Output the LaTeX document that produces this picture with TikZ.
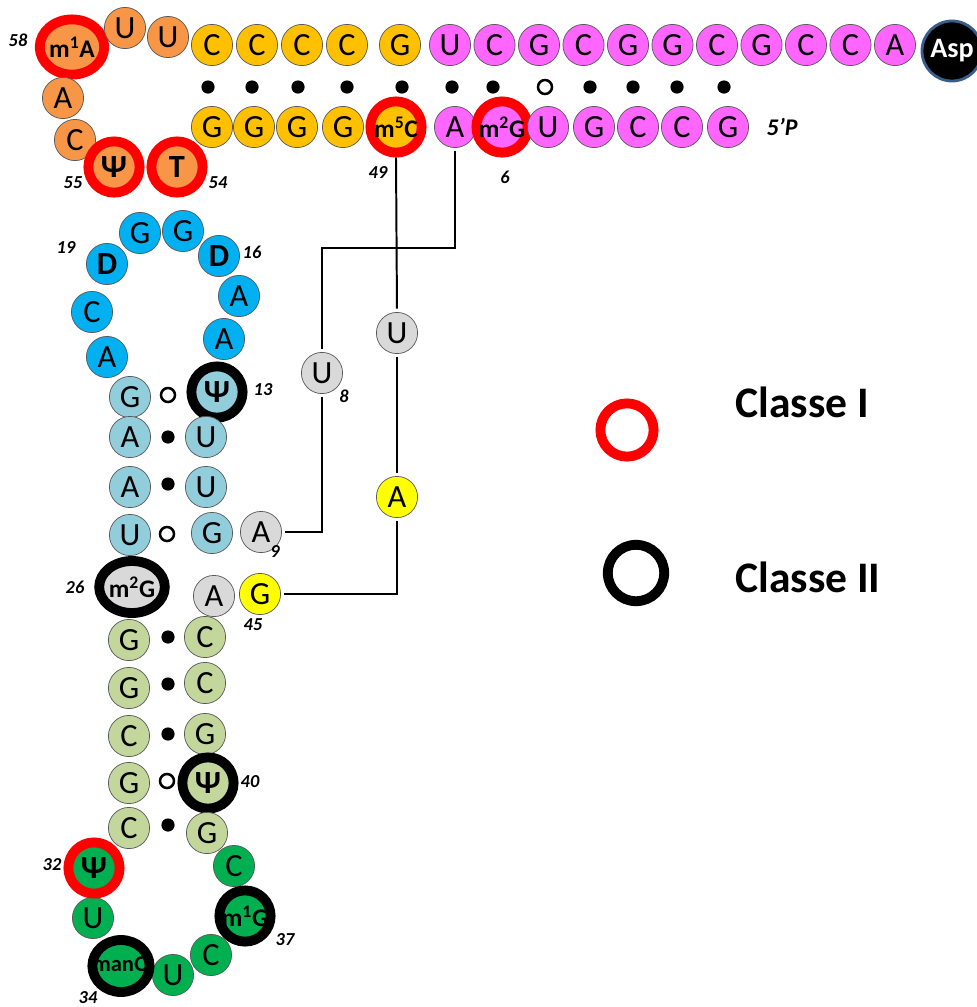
\documentclass[tikz,border=0pt]{standalone}
\usepackage{fontspec}
\setmainfont{Carlito}
\usetikzlibrary{shapes.geometric}
\definecolor{tloop}{RGB}{247,150,70}
\definecolor{tstem}{RGB}{255,192,0}
\definecolor{accept}{RGB}{255,102,255}
\definecolor{dloop}{RGB}{0,176,240}
\definecolor{dstem}{RGB}{146,205,220}
\definecolor{varg}{RGB}{217,217,217}
\definecolor{yel}{RGB}{255,255,0}
\definecolor{astem}{RGB}{195,214,155}
\definecolor{aloop}{RGB}{0,176,80}
\definecolor{aspring}{RGB}{56,93,138}

\begin{document}
\begin{tikzpicture}[x=0.025cm,y=-0.025cm]
  \tikzset{nt/.style = {shape=circle,draw=black!65,line width=0.5pt,minimum size=1.03cm,inner sep=0pt,font=\fontsize{23}{23}\selectfont}}
  \tikzset{bnt/.style = {font=\bfseries\fontsize{23}{23}\selectfont}}
  \tikzset{mod/.style = {font=\bfseries\fontsize{18}{18}\selectfont}}
  \tikzset{cI/.style = {draw=red,line width=7pt,minimum size=1.28cm}}
  \tikzset{cII/.style = {draw=black,line width=7pt,minimum size=1.28cm}}
  \tikzset{oval/.style = {shape=ellipse,inner sep=0pt}}
  \tikzset{num/.style = {font=\bfseries\itshape\fontsize{13}{13}\selectfont,inner sep=0pt}}
  \tikzset{bp/.style = {shape=circle,fill,minimum size=0.33cm,inner sep=0pt}}
  \tikzset{wob/.style = {shape=circle,draw,line width=1.8pt,minimum size=0.35cm,inner sep=0pt}}
  \tikzset{link/.style = {line width=1.4pt,shorten <=2.5pt,shorten >=2.5pt}}
  \useasboundingbox (0,0) rectangle (977,1007);

  % acceptor and T stems
  \foreach \b [count=\i] in {C,C,C,C}
    \node[nt,fill=tstem] (tc\i) at ({212+45*(\i-1)},45) {\b};
  \node[nt,fill=tstem] (tg5) at (400,45) {G};
  \foreach \b [count=\i] in {U,C,G,C,G,G,C,G,C,C,A}
    \node[nt,fill=accept] (ac\i) at ({450+44.5*(\i-1)},45) {\b};
  \node[nt,fill=black,draw=aspring,line width=2pt,minimum size=1.5cm,text=white,font=\bfseries\fontsize{20}{20}\selectfont] (Asp) at (952,51) {Asp};

  \foreach \x [count=\i] in {212,254,297,343}
    \node[nt,fill=tstem] (bg\i) at (\x,127) {G};
  \node[nt,fill=tstem,cI,mod] (m5C) at (396,127) {m\textsuperscript{5}C};
  \node[nt,fill=accept] (A14) at (455,127) {A};
  \node[nt,fill=accept,cI,mod] (m2Ga) at (502,127) {m\textsuperscript{2}G};
  \foreach \b/\x [count=\i] in {U/548,G/594,C/638,C/682,G/728}
    \node[nt,fill=accept] (ap\i) at (\x,127) {\b};

  \foreach \x in {208,252,298,347,402,452,493,590,633,677,724}
    \node[bp] (bp\x) at (\x,87) {};
  \node[wob] (wb545) at (545,87) {};

  % T loop
  \node[nt,fill=tloop,oval,cI,mod,minimum width=1.58cm,minimum height=1.38cm] (m1A) at (72,47) {m\textsuperscript{1}A};
  \node[nt,fill=tloop] (U59) at (125,28) {U};
  \node[nt,fill=tloop] (U60) at (168,37) {U};
  \node[nt,fill=tloop] (A57) at (63,98) {A};
  \node[nt,fill=tloop] (C56) at (75,140) {C};
  \node[nt,fill=tloop,cI,bnt] (Psi55) at (114,167) {Ψ};
  \node[nt,fill=tloop,cI,bnt] (T54) at (177,167) {T};

  % D arm
  \node[nt,fill=dloop] (G18) at (140,233) {G};
  \node[nt,fill=dloop] (G17) at (183,231) {G};
  \node[nt,fill=dloop,bnt] (D19) at (107,264) {D};
  \node[nt,fill=dloop,bnt] (D16) at (219,256) {D};
  \node[nt,fill=dloop] (A15) at (239,296) {A};
  \node[nt,fill=dloop] (C20) at (92,312) {C};
  \node[nt,fill=dloop] (A21) at (107,357) {A};
  \node[nt,fill=dloop] (A14b) at (224,339) {A};

  \foreach \b/\y [count=\i] in {G/397,A/437,A/487,U/535}
    \node[nt,fill=dstem] (dl\i) at (130,\y) {\b};
  \node[nt,fill=dstem,cII,bnt] (Psi13) at (217,392) {Ψ};
  \node[nt,fill=dstem] (U12) at (206,437) {U};
  \node[nt,fill=dstem] (U11) at (206,487) {U};
  \node[nt,fill=dstem] (G10) at (212,533) {G};
  \node[wob] (wb395) at (168,395) {};
  \node[bp] (bp437) at (168,437) {};
  \node[bp] (bp484) at (168,484) {};
  \node[wob] (wb534) at (167,534) {};

  % variable region
  \node[nt,fill=varg] (A9) at (261,532) {A};
  \node[nt,fill=varg,oval,cII,mod,minimum width=1.63cm,minimum height=1.3cm] (m2G26) at (132,587) {m\textsuperscript{2}G};
  \node[nt,fill=varg] (A44) at (214,596) {A};
  \node[nt,fill=yel] (G45) at (260,594) {G};
  \node[nt,fill=varg] (U8) at (322,373) {U};
  \node[nt,fill=varg] (U48) at (397,333) {U};
  \node[nt,fill=yel] (A47) at (397,497) {A};

  % anticodon arm
  \foreach \b/\y [count=\i] in {G/640,G/688,C/736,G/783,C/828}
    \node[nt,fill=astem] (sl\i) at (129,\y) {\b};
  \node[nt,fill=astem] (C43) at (205,637) {C};
  \node[nt,fill=astem] (C42) at (205,683) {C};
  \node[nt,fill=astem] (G41) at (205,734) {G};
  \node[nt,fill=astem,cII,bnt] (Psi40) at (208,783) {Ψ};
  \node[nt,fill=astem] (G39) at (207,833) {G};
  \foreach \y in {637,684,734,825}
    \node[bp] (bp\y) at (168,\y) {};
  \node[wob] (wb781) at (167,781) {};

  \node[nt,fill=aloop] (C38) at (234,866) {C};
  \node[nt,fill=aloop] (U33) at (93,918) {U};
  \node[nt,fill=aloop] (U35) at (173,975) {U};
  \node[nt,fill=aloop] (C36) at (211,955) {C};
  \node[nt,fill=aloop,cI,bnt] (Psi32) at (94,868) {Ψ};
  \node[nt,fill=aloop,cII,mod] (m1G) at (245,916) {m\textsuperscript{1}G};
  \node[nt,fill=aloop,oval,cII,font=\bfseries\fontsize{16}{16}\selectfont,minimum width=1.43cm,minimum height=1.3cm] (manQ) at (121,966) {\makebox[0pt]{manQ}};

  % numbers
  \node[num] (n58) at (18,40) {58};
  \node[num] (n55) at (73,183) {55};
  \node[num] (n54) at (218,183) {54};
  \node[num] (n49) at (378,173) {49};
  \node[num] (n6) at (505,177) {6};
  \node[num] (n19) at (66,248) {19};
  \node[num] (n16) at (252,252) {16};
  \node[num] (n13) at (263,390) {13};
  \node[num] (n8) at (344,396) {8};
  \node[num] (n9) at (275,552) {9};
  \node[num] (n26) at (75,587) {26};
  \node[num] (n45) at (253,625) {45};
  \node[num] (n40) at (250,782) {40};
  \node[num] (n32) at (52,865) {32};
  \node[num] (n37) at (285,940) {37};
  \node[num] (n34) at (88,998) {34};
  \node[num,font=\bfseries\itshape\fontsize{17}{17}\selectfont] (p5) at (782,127) {5’P};

  % tertiary links
  \draw[link,shorten <=0pt] (m5C.south) -- (U48.north);
  \draw[link] (U48.south) -- (A47.north);
  \draw[link] (A47.south) |- (G45.east);
  \draw[link] (A14.south) -- ++(0,100) -| (U8.north);
  \draw[link] (U8.south) |- (A9.east);

  % legend
  \node[shape=circle,cI,minimum size=1.33cm] (leg1) at (627,430) {};
  \node[shape=circle,cII,minimum size=1.41cm] (leg2) at (636,573) {};
  \node[anchor=west,inner sep=0pt,font=\bfseries\fontsize{31}{31}\selectfont] (cls1) at (735,402) {Classe I};
  \node[anchor=west,inner sep=0pt,font=\bfseries\fontsize{31}{31}\selectfont] (cls2) at (735,577) {Classe II};
\end{tikzpicture}
\end{document}
